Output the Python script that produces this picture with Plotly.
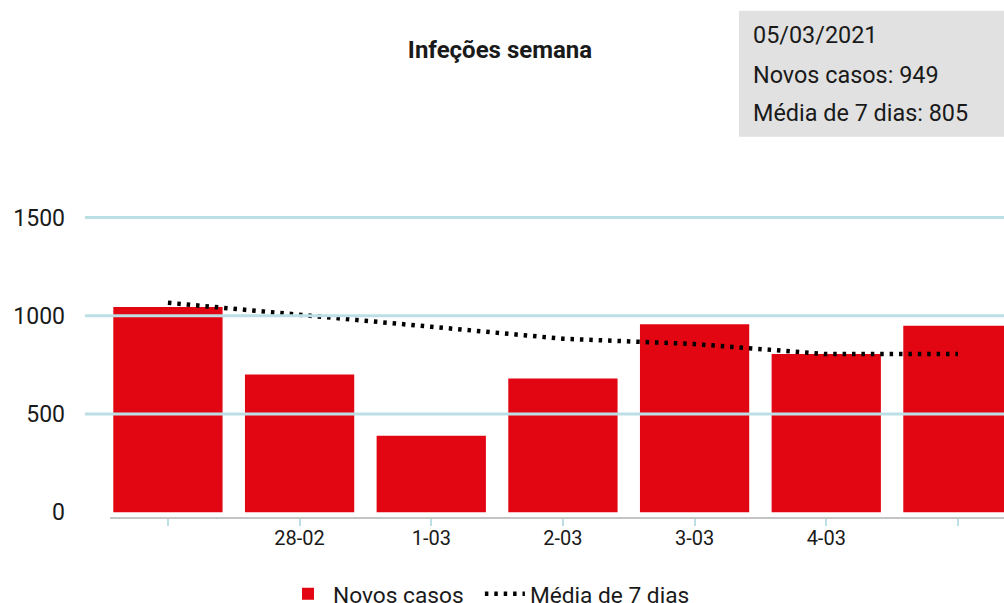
import plotly.graph_objects as go

# ---- data ----
dates = ["27-02", "28-02", "1-03", "2-03", "3-03", "4-03", "5-03"]
tick_labels = ["", "28-02", "1-03", "2-03", "3-03", "4-03", ""]
novos_casos = [1044, 701, 389, 681, 957, 805, 949]
media_7_dias = [1066, 1007, 944, 883, 856, 805, 805]
y_ticks = [0, 500, 1000, 1500]
y_tick_labels = ["0", "500", "1000", "1500"]
tooltip_date = "05/03/2021"

RED = "#e20613"
GRID = "#bcdfe5"
FONT = "Roboto"
TXT = "#1a1a1a"

W, H = 1004, 603
ML, MR, MT, MB = 110, 0, 200, H - 517

fig = go.Figure()
fig.add_trace(go.Bar(
    x=dates, y=novos_casos, name="Novos casos\u00a0\u00a0",
    marker=dict(color=RED, line=dict(width=0)),
    hoverinfo="skip",
))
fig.add_trace(go.Scatter(
    x=dates, y=media_7_dias, name="Média de 7 dias", mode="lines",
    line=dict(color="black", width=4.5, dash="3.5px,5.9px"),
    hoverinfo="skip",
))

plot_w = W - ML - MR
plot_h = H - MT - MB

def px_x(sx):
    return (sx - ML) / plot_w

def px_y(sy):
    return (MT + plot_h - sy) / plot_h

# gridlines drawn above bars (as in reference), extending left of axis
for v in y_ticks[1:]:
    fig.add_shape(type="line", xref="paper", yref="y", x0=px_x(85), x1=1, y0=v, y1=v,
                  line=dict(color=GRID, width=3), layer="above")

# tooltip box
fig.add_shape(type="rect", xref="paper", yref="paper", x0=px_x(739), x1=1.0,
              y0=px_y(136.7), y1=px_y(10.7),
              fillcolor="#e1e1e1", line=dict(width=0), layer="above")
lines = [tooltip_date,
         f"Novos casos: {novos_casos[-1]}",
         f"Média de 7 dias: {media_7_dias[-1]}"]
for t, py in zip(lines, [35, 75, 113]):
    fig.add_annotation(text=t, xref="paper", yref="paper",
                       x=px_x(751), y=px_y(py),
                       xanchor="left", yanchor="middle", showarrow=False,
                       font=dict(family=FONT, size=23.4, color=TXT))

fig.update_layout(
    width=W, height=H,
    margin=dict(l=ML, r=MR, t=MT, b=MB),
    paper_bgcolor="white", plot_bgcolor="white",
    title=dict(text="<b>Infeções semana</b>", x=500 / W, xanchor="center",
               y=1 - 50 / H, yanchor="middle",
               font=dict(family=FONT, size=24, color=TXT)),
    bargap=0.17,
    showlegend=True,
    legend=dict(orientation="h", xref="container", yref="container",
                x=489 / W, xanchor="center", y=(H - 594) / H,
                yanchor="middle",
                font=dict(family=FONT, size=22.7, color=TXT), itemwidth=40,
                traceorder="normal"),
    xaxis=dict(type="category", range=[-0.44, 6.35], showgrid=False,
               showline=True, linecolor="#c4c4c4", linewidth=2,
               ticks="outside", ticklen=7, tickwidth=2, tickcolor=GRID,
               tickvals=dates, ticktext=tick_labels, ticklabelstandoff=-5,
               tickfont=dict(family=FONT, size=20, color=TXT), zeroline=False,
               fixedrange=True),
    yaxis=dict(range=[-24, 1589], showgrid=False, zeroline=False,
               tickvals=y_ticks, ticktext=y_tick_labels,
               tickfont=dict(family=FONT, size=23, color=TXT),
               ticklabelstandoff=44, fixedrange=True),
)

fig.write_html("out.html", config={"displayModeBar": False},
               post_script="document.body.style.margin='0';document.body.style.overflow='hidden';")
